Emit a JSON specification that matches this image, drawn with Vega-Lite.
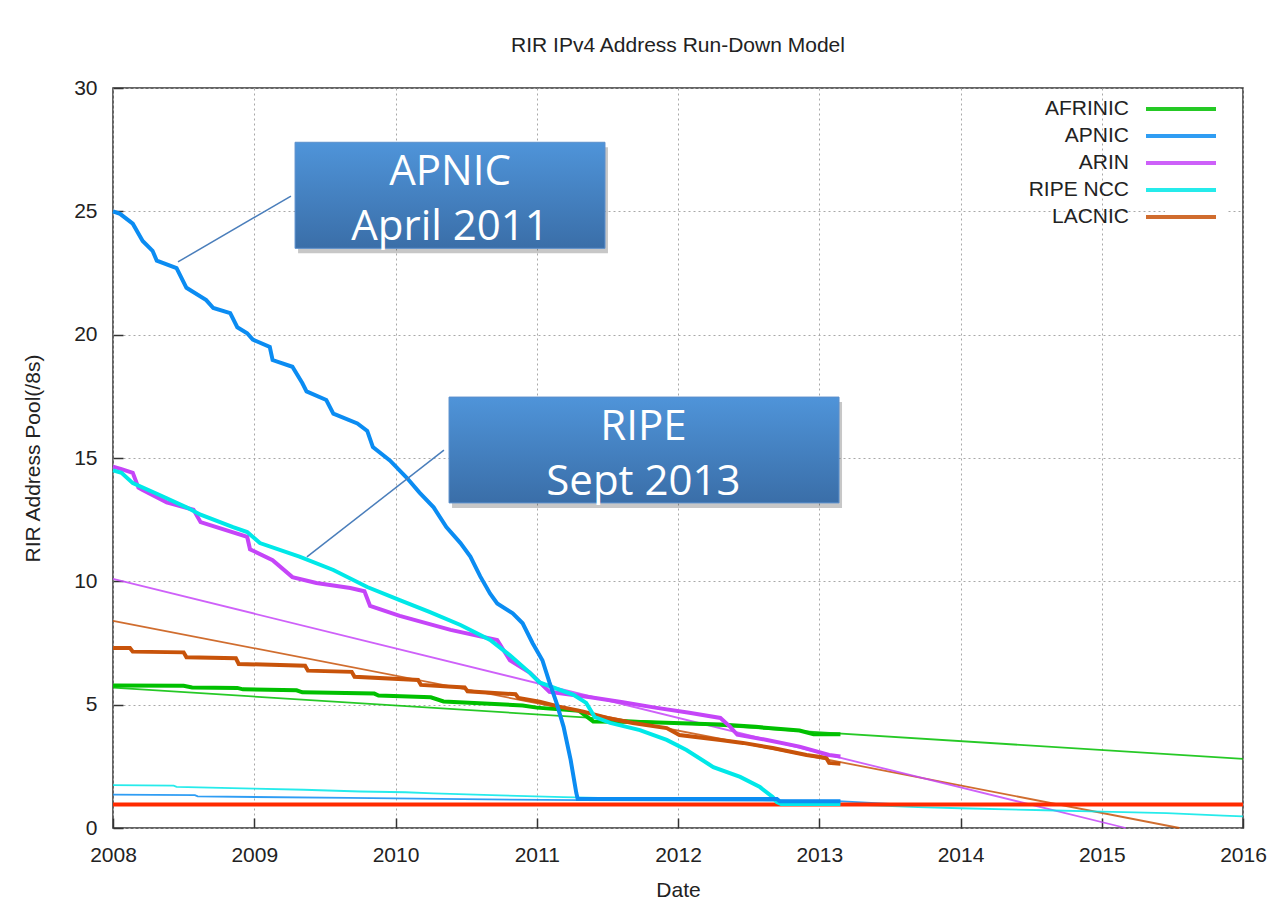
{
  "$schema": "https://vega.github.io/schema/vega-lite/v6.json",
  "width": 1130,
  "height": 740,
  "autosize": {"type": "none"},
  "padding": {"left": 113, "top": 88, "right": 27, "bottom": 80},
  "background": "white",
  "title": {"text": "RIR IPv4 Address Run-Down Model", "font": "Liberation Sans", "fontSize": 21, "fontWeight": "normal", "color": "#222", "offset": 21, "anchor": "middle"},
  "config": {
    "view": {"stroke": "#333", "strokeWidth": 1.5},
    "axis": {
      "labelFont": "Liberation Sans", "labelFontSize": 21, "labelColor": "#222", "labelFlush": false,
      "titleFont": "Liberation Sans", "titleFontSize": 21, "titleFontWeight": "normal", "titleColor": "#222",
      "gridColor": "#a8a8a8", "gridDash": [2, 3], "gridWidth": 1,
      "domain": false, "tickColor": "#333", "tickSize": -10, "tickWidth": 1.5
    }
  },
  "datasets": {
    "actual": [
      {"series": "AFRINIC", "year": 2008.00, "value": 5.78}, {"series": "AFRINIC", "year": 2008.50, "value": 5.77}, {"series": "AFRINIC", "year": 2008.56, "value": 5.70}, {"series": "AFRINIC", "year": 2008.88, "value": 5.68}, {"series": "AFRINIC", "year": 2008.92, "value": 5.62}, {"series": "AFRINIC", "year": 2009.30, "value": 5.58}, {"series": "AFRINIC", "year": 2009.34, "value": 5.50}, {"series": "AFRINIC", "year": 2009.85, "value": 5.45}, {"series": "AFRINIC", "year": 2009.88, "value": 5.37}, {"series": "AFRINIC", "year": 2010.25, "value": 5.30}, {"series": "AFRINIC", "year": 2010.34, "value": 5.13}, {"series": "AFRINIC", "year": 2010.90, "value": 4.97}, {"series": "AFRINIC", "year": 2011.00, "value": 4.88}, {"series": "AFRINIC", "year": 2011.30, "value": 4.75}, {"series": "AFRINIC", "year": 2011.40, "value": 4.32}, {"series": "AFRINIC", "year": 2011.75, "value": 4.30}, {"series": "AFRINIC", "year": 2012.30, "value": 4.20}, {"series": "AFRINIC", "year": 2012.55, "value": 4.10}, {"series": "AFRINIC", "year": 2012.86, "value": 3.95}, {"series": "AFRINIC", "year": 2012.96, "value": 3.80}, {"series": "AFRINIC", "year": 2013.15, "value": 3.80},
      {"series": "LACNIC", "year": 2008.00, "value": 7.30}, {"series": "LACNIC", "year": 2008.12, "value": 7.30}, {"series": "LACNIC", "year": 2008.14, "value": 7.15}, {"series": "LACNIC", "year": 2008.50, "value": 7.12}, {"series": "LACNIC", "year": 2008.52, "value": 6.92}, {"series": "LACNIC", "year": 2008.87, "value": 6.88}, {"series": "LACNIC", "year": 2008.89, "value": 6.65}, {"series": "LACNIC", "year": 2009.36, "value": 6.58}, {"series": "LACNIC", "year": 2009.38, "value": 6.38}, {"series": "LACNIC", "year": 2009.69, "value": 6.33}, {"series": "LACNIC", "year": 2009.71, "value": 6.13}, {"series": "LACNIC", "year": 2010.16, "value": 6.00}, {"series": "LACNIC", "year": 2010.18, "value": 5.80}, {"series": "LACNIC", "year": 2010.49, "value": 5.70}, {"series": "LACNIC", "year": 2010.51, "value": 5.54}, {"series": "LACNIC", "year": 2010.85, "value": 5.42}, {"series": "LACNIC", "year": 2010.87, "value": 5.27}, {"series": "LACNIC", "year": 2011.02, "value": 5.12}, {"series": "LACNIC", "year": 2011.16, "value": 4.92}, {"series": "LACNIC", "year": 2011.33, "value": 4.72}, {"series": "LACNIC", "year": 2011.50, "value": 4.46}, {"series": "LACNIC", "year": 2011.68, "value": 4.26}, {"series": "LACNIC", "year": 2011.92, "value": 4.05}, {"series": "LACNIC", "year": 2012.01, "value": 3.77}, {"series": "LACNIC", "year": 2012.30, "value": 3.57}, {"series": "LACNIC", "year": 2012.46, "value": 3.45}, {"series": "LACNIC", "year": 2012.67, "value": 3.24}, {"series": "LACNIC", "year": 2012.91, "value": 2.96}, {"series": "LACNIC", "year": 2013.05, "value": 2.84}, {"series": "LACNIC", "year": 2013.07, "value": 2.64}, {"series": "LACNIC", "year": 2013.15, "value": 2.60},
      {"series": "ARIN", "year": 2008.00, "value": 14.65}, {"series": "ARIN", "year": 2008.06, "value": 14.55}, {"series": "ARIN", "year": 2008.14, "value": 14.40}, {"series": "ARIN", "year": 2008.18, "value": 13.80}, {"series": "ARIN", "year": 2008.21, "value": 13.70}, {"series": "ARIN", "year": 2008.38, "value": 13.20}, {"series": "ARIN", "year": 2008.57, "value": 12.90}, {"series": "ARIN", "year": 2008.62, "value": 12.40}, {"series": "ARIN", "year": 2008.95, "value": 11.80}, {"series": "ARIN", "year": 2008.97, "value": 11.30}, {"series": "ARIN", "year": 2009.13, "value": 10.86}, {"series": "ARIN", "year": 2009.27, "value": 10.17}, {"series": "ARIN", "year": 2009.44, "value": 9.93}, {"series": "ARIN", "year": 2009.68, "value": 9.73}, {"series": "ARIN", "year": 2009.78, "value": 9.60}, {"series": "ARIN", "year": 2009.82, "value": 9.00}, {"series": "ARIN", "year": 2010.03, "value": 8.60}, {"series": "ARIN", "year": 2010.39, "value": 8.03}, {"series": "ARIN", "year": 2010.72, "value": 7.62}, {"series": "ARIN", "year": 2010.81, "value": 6.80}, {"series": "ARIN", "year": 2010.95, "value": 6.30}, {"series": "ARIN", "year": 2011.09, "value": 5.52}, {"series": "ARIN", "year": 2011.38, "value": 5.30}, {"series": "ARIN", "year": 2011.61, "value": 5.10}, {"series": "ARIN", "year": 2011.85, "value": 4.87}, {"series": "ARIN", "year": 2012.08, "value": 4.67}, {"series": "ARIN", "year": 2012.30, "value": 4.46}, {"series": "ARIN", "year": 2012.37, "value": 4.10}, {"series": "ARIN", "year": 2012.42, "value": 3.78}, {"series": "ARIN", "year": 2012.63, "value": 3.57}, {"series": "ARIN", "year": 2012.86, "value": 3.30}, {"series": "ARIN", "year": 2013.07, "value": 2.96}, {"series": "ARIN", "year": 2013.15, "value": 2.90},
      {"series": "RIPE NCC", "year": 2008.00, "value": 14.50}, {"series": "RIPE NCC", "year": 2008.06, "value": 14.40}, {"series": "RIPE NCC", "year": 2008.14, "value": 13.98}, {"series": "RIPE NCC", "year": 2008.33, "value": 13.50}, {"series": "RIPE NCC", "year": 2008.52, "value": 13.00}, {"series": "RIPE NCC", "year": 2008.62, "value": 12.70}, {"series": "RIPE NCC", "year": 2008.85, "value": 12.20}, {"series": "RIPE NCC", "year": 2008.95, "value": 12.00}, {"series": "RIPE NCC", "year": 2009.04, "value": 11.55}, {"series": "RIPE NCC", "year": 2009.32, "value": 11.00}, {"series": "RIPE NCC", "year": 2009.56, "value": 10.46}, {"series": "RIPE NCC", "year": 2009.80, "value": 9.77}, {"series": "RIPE NCC", "year": 2010.03, "value": 9.24}, {"series": "RIPE NCC", "year": 2010.24, "value": 8.76}, {"series": "RIPE NCC", "year": 2010.46, "value": 8.23}, {"series": "RIPE NCC", "year": 2010.67, "value": 7.62}, {"series": "RIPE NCC", "year": 2010.81, "value": 7.00}, {"series": "RIPE NCC", "year": 2010.95, "value": 6.30}, {"series": "RIPE NCC", "year": 2011.02, "value": 5.90}, {"series": "RIPE NCC", "year": 2011.26, "value": 5.40}, {"series": "RIPE NCC", "year": 2011.35, "value": 5.07}, {"series": "RIPE NCC", "year": 2011.41, "value": 4.50}, {"series": "RIPE NCC", "year": 2011.52, "value": 4.26}, {"series": "RIPE NCC", "year": 2011.73, "value": 3.97}, {"series": "RIPE NCC", "year": 2011.92, "value": 3.57}, {"series": "RIPE NCC", "year": 2012.06, "value": 3.16}, {"series": "RIPE NCC", "year": 2012.25, "value": 2.47}, {"series": "RIPE NCC", "year": 2012.44, "value": 2.07}, {"series": "RIPE NCC", "year": 2012.58, "value": 1.66}, {"series": "RIPE NCC", "year": 2012.67, "value": 1.26}, {"series": "RIPE NCC", "year": 2012.70, "value": 1.05}, {"series": "RIPE NCC", "year": 2012.73, "value": 0.97}, {"series": "RIPE NCC", "year": 2013.15, "value": 0.97},
      {"series": "APNIC", "year": 2008.00, "value": 25.00}, {"series": "APNIC", "year": 2008.05, "value": 24.90}, {"series": "APNIC", "year": 2008.14, "value": 24.50}, {"series": "APNIC", "year": 2008.21, "value": 23.80}, {"series": "APNIC", "year": 2008.28, "value": 23.40}, {"series": "APNIC", "year": 2008.31, "value": 23.00}, {"series": "APNIC", "year": 2008.45, "value": 22.70}, {"series": "APNIC", "year": 2008.52, "value": 21.90}, {"series": "APNIC", "year": 2008.66, "value": 21.40}, {"series": "APNIC", "year": 2008.71, "value": 21.08}, {"series": "APNIC", "year": 2008.83, "value": 20.87}, {"series": "APNIC", "year": 2008.88, "value": 20.30}, {"series": "APNIC", "year": 2008.95, "value": 20.06}, {"series": "APNIC", "year": 2008.99, "value": 19.80}, {"series": "APNIC", "year": 2009.11, "value": 19.50}, {"series": "APNIC", "year": 2009.13, "value": 18.97}, {"series": "APNIC", "year": 2009.27, "value": 18.70}, {"series": "APNIC", "year": 2009.34, "value": 18.04}, {"series": "APNIC", "year": 2009.37, "value": 17.70}, {"series": "APNIC", "year": 2009.51, "value": 17.35}, {"series": "APNIC", "year": 2009.56, "value": 16.80}, {"series": "APNIC", "year": 2009.73, "value": 16.40}, {"series": "APNIC", "year": 2009.80, "value": 16.10}, {"series": "APNIC", "year": 2009.84, "value": 15.44}, {"series": "APNIC", "year": 2009.96, "value": 14.90}, {"series": "APNIC", "year": 2010.08, "value": 14.20}, {"series": "APNIC", "year": 2010.17, "value": 13.60}, {"series": "APNIC", "year": 2010.27, "value": 13.00}, {"series": "APNIC", "year": 2010.36, "value": 12.20}, {"series": "APNIC", "year": 2010.46, "value": 11.55}, {"series": "APNIC", "year": 2010.53, "value": 11.00}, {"series": "APNIC", "year": 2010.60, "value": 10.20}, {"series": "APNIC", "year": 2010.67, "value": 9.50}, {"series": "APNIC", "year": 2010.72, "value": 9.10}, {"series": "APNIC", "year": 2010.83, "value": 8.70}, {"series": "APNIC", "year": 2010.90, "value": 8.30}, {"series": "APNIC", "year": 2010.97, "value": 7.50}, {"series": "APNIC", "year": 2011.04, "value": 6.80}, {"series": "APNIC", "year": 2011.09, "value": 5.90}, {"series": "APNIC", "year": 2011.14, "value": 5.07}, {"series": "APNIC", "year": 2011.19, "value": 4.10}, {"series": "APNIC", "year": 2011.24, "value": 2.76}, {"series": "APNIC", "year": 2011.28, "value": 1.42}, {"series": "APNIC", "year": 2011.29, "value": 1.18}, {"series": "APNIC", "year": 2012.70, "value": 1.18}, {"series": "APNIC", "year": 2012.72, "value": 1.08}, {"series": "APNIC", "year": 2013.15, "value": 1.08}
    ],
    "projection": [
      {"series": "AFRINIC", "year": 2008, "value": 5.69}, {"series": "AFRINIC", "year": 2016, "value": 2.8},
      {"series": "LACNIC", "year": 2008, "value": 8.4}, {"series": "LACNIC", "year": 2015.55, "value": 0},
      {"series": "ARIN", "year": 2008, "value": 10.1}, {"series": "ARIN", "year": 2015.17, "value": 0},
      {"series": "RIPE NCC", "year": 2008, "value": 1.74}, {"series": "RIPE NCC", "year": 2008.43, "value": 1.72}, {"series": "RIPE NCC", "year": 2008.45, "value": 1.67}, {"series": "RIPE NCC", "year": 2009.0, "value": 1.6}, {"series": "RIPE NCC", "year": 2009.35, "value": 1.55}, {"series": "RIPE NCC", "year": 2009.75, "value": 1.48}, {"series": "RIPE NCC", "year": 2010.07, "value": 1.45}, {"series": "RIPE NCC", "year": 2010.27, "value": 1.4}, {"series": "RIPE NCC", "year": 2010.74, "value": 1.32}, {"series": "RIPE NCC", "year": 2011.19, "value": 1.25}, {"series": "RIPE NCC", "year": 2011.6, "value": 1.2}, {"series": "RIPE NCC", "year": 2012.7, "value": 1.12}, {"series": "RIPE NCC", "year": 2013.15, "value": 0.97}, {"series": "RIPE NCC", "year": 2013.7, "value": 0.85}, {"series": "RIPE NCC", "year": 2014.0, "value": 0.8}, {"series": "RIPE NCC", "year": 2014.6, "value": 0.72}, {"series": "RIPE NCC", "year": 2015.0, "value": 0.66}, {"series": "RIPE NCC", "year": 2015.46, "value": 0.6}, {"series": "RIPE NCC", "year": 2015.86, "value": 0.5}, {"series": "RIPE NCC", "year": 2016, "value": 0.47},
      {"series": "APNIC", "year": 2008, "value": 1.35}, {"series": "APNIC", "year": 2008.58, "value": 1.33}, {"series": "APNIC", "year": 2008.6, "value": 1.28}, {"series": "APNIC", "year": 2009.67, "value": 1.22}, {"series": "APNIC", "year": 2010.64, "value": 1.16}, {"series": "APNIC", "year": 2011.3, "value": 1.13}, {"series": "APNIC", "year": 2013.1, "value": 1.1}, {"series": "APNIC", "year": 2013.5, "value": 0.98}, {"series": "APNIC", "year": 2016, "value": 0.95}
    ],
    "floor": [
      {"year": 2008, "value": 0.95}, {"year": 2016, "value": 0.95}
    ],
    "boxes": [
      {"label": "APNIC", "x": 2009.289, "x2": 2011.483, "y": 27.80, "y2": 23.50},
      {"label": "RIPE", "x": 2010.379, "x2": 2013.140, "y": 17.47, "y2": 13.18}
    ],
    "leaders": [
      {"x": 2008.460, "y": 22.95, "x2": 2009.260, "y2": 25.62},
      {"x": 2009.373, "y": 10.99, "x2": 2010.343, "y2": 15.32}
    ],
    "boxtext": [
      {"text": "APNIC", "x": 2010.386, "y": 26.58},
      {"text": "April 2011", "x": 2010.386, "y": 24.37},
      {"text": "RIPE", "x": 2011.755, "y": 16.27},
      {"text": "Sept 2013", "x": 2011.755, "y": 14.03}
    ]
  },
  "layer": [
    {
      "data": {"name": "projection"},
      "mark": {"type": "line", "strokeWidth": 1.8, "opacity": 0.85},
      "encoding": {
        "x": {"field": "year", "type": "quantitative", "scale": {"domain": [2008, 2016], "nice": false, "zero": false},
              "axis": {"title": "Date", "values": [2008, 2009, 2010, 2011, 2012, 2013, 2014, 2015, 2016], "format": "d", "labelPadding": 26, "titlePadding": 14}},
        "y": {"field": "value", "type": "quantitative", "scale": {"domain": [0, 30], "nice": false},
              "axis": {"title": "RIR Address Pool(/8s)", "values": [0, 5, 10, 15, 20, 25, 30], "labelPadding": 26, "titlePadding": 30}},
        "color": {"field": "series", "type": "nominal",
                  "scale": {"domain": ["AFRINIC", "APNIC", "ARIN", "RIPE NCC", "LACNIC"], "range": ["#00c000", "#0b8cf2", "#c545f8", "#00e8e8", "#c8530a"]},
                  "legend": {"orient": "none", "legendX": 1052, "legendY": 5, "title": null, "labelFont": "Liberation Sans", "labelFontSize": 21, "labelColor": "#222",
                             "symbolType": "M-3.5,0H3.5", "symbolStrokeWidth": 4, "symbolSize": 400, "symbolFillColor": "transparent", "labelAlign": "right", "labelOffset": -64, "rowPadding": 5,
                             "fillColor": "white", "padding": 4}}
      }
    },
    {
      "data": {"name": "floor"},
      "mark": {"type": "line", "color": "#ff2a00", "strokeWidth": 4},
      "encoding": {"x": {"field": "year", "type": "quantitative"}, "y": {"field": "value", "type": "quantitative"}}
    },
    {
      "data": {"name": "actual"},
      "mark": {"type": "line", "strokeWidth": 4, "strokeJoin": "miter"},
      "encoding": {
        "x": {"field": "year", "type": "quantitative"},
        "y": {"field": "value", "type": "quantitative"},
        "color": {"field": "series", "type": "nominal"}
      }
    },
    {
      "data": {"name": "leaders"},
      "mark": {"type": "rule", "color": "#4a7ebb", "strokeWidth": 1.5},
      "encoding": {"x": {"field": "x", "type": "quantitative"}, "y": {"field": "y", "type": "quantitative"}, "x2": {"field": "x2"}, "y2": {"field": "y2"}}
    },
    {
      "data": {"name": "boxes"},
      "mark": {"type": "rect", "color": "#000000", "opacity": 0.22, "xOffset": 3, "yOffset": 5, "x2Offset": 3, "y2Offset": 5},
      "encoding": {"x": {"field": "x", "type": "quantitative"}, "x2": {"field": "x2"}, "y": {"field": "y", "type": "quantitative"}, "y2": {"field": "y2"}}
    },
    {
      "data": {"name": "boxes"},
      "mark": {"type": "rect", "stroke": "#5b8fcc", "strokeWidth": 1,
               "fill": {"gradient": "linear", "x1": 0, "y1": 0, "x2": 0, "y2": 1, "stops": [{"offset": 0, "color": "#4f94d9"}, {"offset": 1, "color": "#3a6ea8"}]}},
      "encoding": {"x": {"field": "x", "type": "quantitative"}, "x2": {"field": "x2"}, "y": {"field": "y", "type": "quantitative"}, "y2": {"field": "y2"}}
    },
    {
      "data": {"name": "boxtext"},
      "mark": {"type": "text", "font": "Open Sans", "fontSize": 42, "color": "white", "align": "center", "baseline": "middle"},
      "encoding": {"x": {"field": "x", "type": "quantitative"}, "y": {"field": "y", "type": "quantitative"}, "text": {"field": "text"}}
    }
  ]
}
